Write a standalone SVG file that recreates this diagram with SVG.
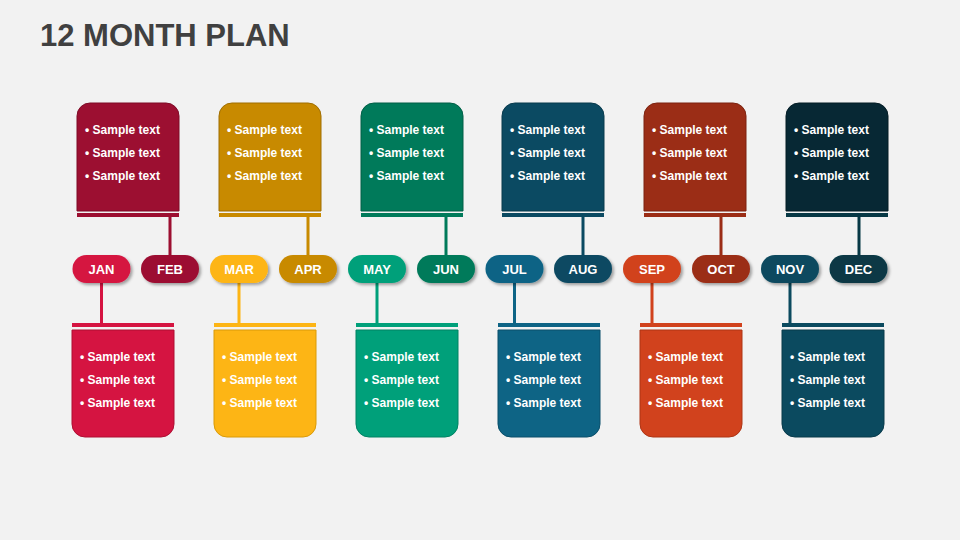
<svg xmlns="http://www.w3.org/2000/svg" width="960" height="540" viewBox="0 0 960 540">
<defs>
<style>
.title{font-family:"Liberation Sans",Arial,sans-serif;font-weight:bold;font-size:31px;fill:#404040}
.pt{font-family:"Liberation Sans",Arial,sans-serif;font-weight:bold;font-size:13px;fill:#fff;text-anchor:middle}
.bt{font-family:"Liberation Sans",Arial,sans-serif;font-weight:bold;font-size:12px;fill:#fff}
.ln{stroke-width:3;fill:none}
</style>
<filter id="sh" x="-20%" y="-30%" width="150%" height="180%">
<feDropShadow dx="2" dy="2" stdDeviation="1.5" flood-color="#000" flood-opacity="0.35"/>
</filter>
</defs>
<rect width="960" height="540" fill="#F2F2F2"/>
<text class="title" x="40" y="46">12 MONTH PLAN</text>

<g id="connectors">
<line class="ln" x1="170" y1="217" x2="170" y2="256" stroke="#9C0F31"/>
<line class="ln" x1="308" y1="217" x2="308" y2="256" stroke="#C88A00"/>
<line class="ln" x1="446" y1="217" x2="446" y2="256" stroke="#007A5A"/>
<line class="ln" x1="583" y1="217" x2="583" y2="256" stroke="#0B4A62"/>
<line class="ln" x1="721" y1="217" x2="721" y2="256" stroke="#9B2D16"/>
<line class="ln" x1="859" y1="217" x2="859" y2="256" stroke="#073845"/>
<line class="ln" x1="101.5" y1="282" x2="101.5" y2="323" stroke="#D51441"/>
<line class="ln" x1="239" y1="282" x2="239" y2="323" stroke="#FDB515"/>
<line class="ln" x1="377" y1="282" x2="377" y2="323" stroke="#00A07A"/>
<line class="ln" x1="514.5" y1="282" x2="514.5" y2="323" stroke="#0E6485"/>
<line class="ln" x1="652" y1="282" x2="652" y2="323" stroke="#D1421D"/>
<line class="ln" x1="790" y1="282" x2="790" y2="323" stroke="#0B4A5F"/>
</g>

<!-- Top boxes -->
<g id="box-feb">
<path d="M77 211 V116 A13 13 0 0 1 90 103 H166 A13 13 0 0 1 179 116 V211 Z" fill="#9C0F31" stroke="#7E0B27" stroke-width="1"/>
<rect x="77" y="213" width="102" height="4" fill="#9C0F31"/>
<text class="bt" x="85" y="134">• Sample text</text>
<text class="bt" x="85" y="157">• Sample text</text>
<text class="bt" x="85" y="180">• Sample text</text>
</g>
<g id="box-apr">
<path d="M219 211 V116 A13 13 0 0 1 232 103 H308 A13 13 0 0 1 321 116 V211 Z" fill="#C88A00" stroke="#A06E00" stroke-width="1"/>
<rect x="219" y="213" width="102" height="4" fill="#C88A00"/>
<text class="bt" x="227" y="134">• Sample text</text>
<text class="bt" x="227" y="157">• Sample text</text>
<text class="bt" x="227" y="180">• Sample text</text>
</g>
<g id="box-jun">
<path d="M361 211 V116 A13 13 0 0 1 374 103 H450 A13 13 0 0 1 463 116 V211 Z" fill="#007A5A" stroke="#005F46" stroke-width="1"/>
<rect x="361" y="213" width="102" height="4" fill="#007A5A"/>
<text class="bt" x="369" y="134">• Sample text</text>
<text class="bt" x="369" y="157">• Sample text</text>
<text class="bt" x="369" y="180">• Sample text</text>
</g>
<g id="box-aug">
<path d="M502 211 V116 A13 13 0 0 1 515 103 H591 A13 13 0 0 1 604 116 V211 Z" fill="#0B4A62" stroke="#083A4D" stroke-width="1"/>
<rect x="502" y="213" width="102" height="4" fill="#0B4A62"/>
<text class="bt" x="510" y="134">• Sample text</text>
<text class="bt" x="510" y="157">• Sample text</text>
<text class="bt" x="510" y="180">• Sample text</text>
</g>
<g id="box-oct">
<path d="M644 211 V116 A13 13 0 0 1 657 103 H733 A13 13 0 0 1 746 116 V211 Z" fill="#9B2D16" stroke="#7C2310" stroke-width="1"/>
<rect x="644" y="213" width="102" height="4" fill="#9B2D16"/>
<text class="bt" x="652" y="134">• Sample text</text>
<text class="bt" x="652" y="157">• Sample text</text>
<text class="bt" x="652" y="180">• Sample text</text>
</g>
<g id="box-dec">
<path d="M786 211 V116 A13 13 0 0 1 799 103 H875 A13 13 0 0 1 888 116 V211 Z" fill="#072834" stroke="#041C25" stroke-width="1"/>
<rect x="786" y="213" width="102" height="4" fill="#073845"/>
<text class="bt" x="794" y="134">• Sample text</text>
<text class="bt" x="794" y="157">• Sample text</text>
<text class="bt" x="794" y="180">• Sample text</text>
</g>

<!-- Bottom boxes -->
<g id="box-jan">
<rect x="72" y="323" width="102" height="4" fill="#D51441"/>
<path d="M72 330 H174 V424 A13 13 0 0 1 161 437 H85 A13 13 0 0 1 72 424 Z" fill="#D51441" stroke="#AE0F33" stroke-width="1"/>
<text class="bt" x="80" y="361">• Sample text</text>
<text class="bt" x="80" y="384">• Sample text</text>
<text class="bt" x="80" y="407">• Sample text</text>
</g>
<g id="box-mar">
<rect x="214" y="323" width="102" height="4" fill="#FDB515"/>
<path d="M214 330 H316 V424 A13 13 0 0 1 303 437 H227 A13 13 0 0 1 214 424 Z" fill="#FDB515" stroke="#D99A08" stroke-width="1"/>
<text class="bt" x="222" y="361">• Sample text</text>
<text class="bt" x="222" y="384">• Sample text</text>
<text class="bt" x="222" y="407">• Sample text</text>
</g>
<g id="box-may">
<rect x="356" y="323" width="102" height="4" fill="#00A07A"/>
<path d="M356 330 H458 V424 A13 13 0 0 1 445 437 H369 A13 13 0 0 1 356 424 Z" fill="#00A07A" stroke="#008263" stroke-width="1"/>
<text class="bt" x="364" y="361">• Sample text</text>
<text class="bt" x="364" y="384">• Sample text</text>
<text class="bt" x="364" y="407">• Sample text</text>
</g>
<g id="box-jul">
<rect x="498" y="323" width="102" height="4" fill="#0E6485"/>
<path d="M498 330 H600 V424 A13 13 0 0 1 587 437 H511 A13 13 0 0 1 498 424 Z" fill="#0E6485" stroke="#0A4F6A" stroke-width="1"/>
<text class="bt" x="506" y="361">• Sample text</text>
<text class="bt" x="506" y="384">• Sample text</text>
<text class="bt" x="506" y="407">• Sample text</text>
</g>
<g id="box-sep">
<rect x="640" y="323" width="102" height="4" fill="#D1421D"/>
<path d="M640 330 H742 V424 A13 13 0 0 1 729 437 H653 A13 13 0 0 1 640 424 Z" fill="#D1421D" stroke="#AE3515" stroke-width="1"/>
<text class="bt" x="648" y="361">• Sample text</text>
<text class="bt" x="648" y="384">• Sample text</text>
<text class="bt" x="648" y="407">• Sample text</text>
</g>
<g id="box-nov">
<rect x="782" y="323" width="102" height="4" fill="#0B4A5F"/>
<path d="M782 330 H884 V424 A13 13 0 0 1 871 437 H795 A13 13 0 0 1 782 424 Z" fill="#0B4A5F" stroke="#083A4B" stroke-width="1"/>
<text class="bt" x="790" y="361">• Sample text</text>
<text class="bt" x="790" y="384">• Sample text</text>
<text class="bt" x="790" y="407">• Sample text</text>
</g>

<!-- Month pills -->
<g id="pill-jan"><rect x="72.5" y="255" width="58" height="28" rx="14" fill="#D51441" filter="url(#sh)"/><text class="pt" x="101.5" y="274">JAN</text></g>
<g id="pill-feb"><rect x="141" y="255" width="58" height="28" rx="14" fill="#9C0F31" filter="url(#sh)"/><text class="pt" x="170" y="274">FEB</text></g>
<g id="pill-mar"><rect x="210" y="255" width="58" height="28" rx="14" fill="#FDB515" filter="url(#sh)"/><text class="pt" x="239" y="274">MAR</text></g>
<g id="pill-apr"><rect x="279" y="255" width="58" height="28" rx="14" fill="#C88A00" filter="url(#sh)"/><text class="pt" x="308" y="274">APR</text></g>
<g id="pill-may"><rect x="348" y="255" width="58" height="28" rx="14" fill="#00A07A" filter="url(#sh)"/><text class="pt" x="377" y="274">MAY</text></g>
<g id="pill-jun"><rect x="417" y="255" width="58" height="28" rx="14" fill="#007A5A" filter="url(#sh)"/><text class="pt" x="446" y="274">JUN</text></g>
<g id="pill-jul"><rect x="485.5" y="255" width="58" height="28" rx="14" fill="#0E6485" filter="url(#sh)"/><text class="pt" x="514.5" y="274">JUL</text></g>
<g id="pill-aug"><rect x="554" y="255" width="58" height="28" rx="14" fill="#0B4A62" filter="url(#sh)"/><text class="pt" x="583" y="274">AUG</text></g>
<g id="pill-sep"><rect x="623" y="255" width="58" height="28" rx="14" fill="#D1421D" filter="url(#sh)"/><text class="pt" x="652" y="274">SEP</text></g>
<g id="pill-oct"><rect x="692" y="255" width="58" height="28" rx="14" fill="#9B2D16" filter="url(#sh)"/><text class="pt" x="721" y="274">OCT</text></g>
<g id="pill-nov"><rect x="761" y="255" width="58" height="28" rx="14" fill="#0B4A5F" filter="url(#sh)"/><text class="pt" x="790" y="274">NOV</text></g>
<g id="pill-dec"><rect x="829.5" y="255" width="58" height="28" rx="14" fill="#073845" filter="url(#sh)"/><text class="pt" x="858.5" y="274">DEC</text></g>
</svg>
